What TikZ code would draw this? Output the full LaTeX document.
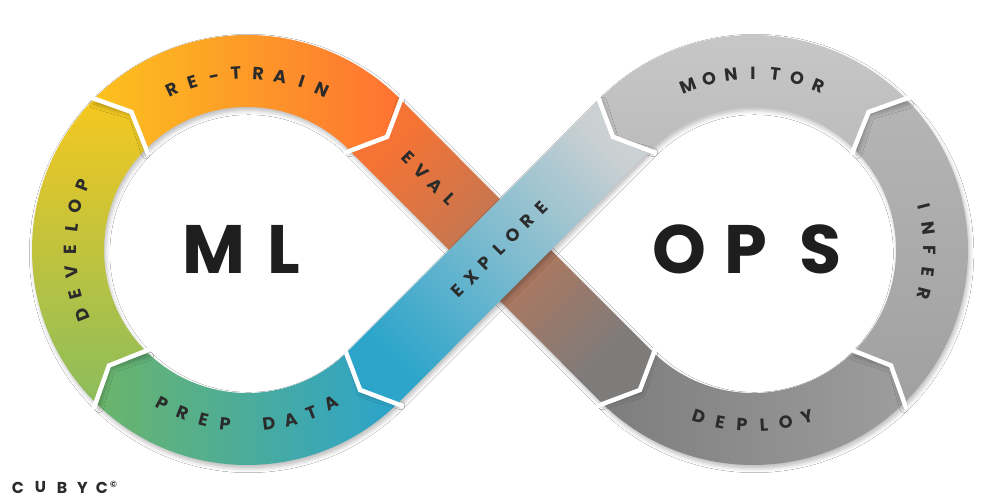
\documentclass[tikz,border=0pt]{standalone}
\usepackage{fontspec}
\setmainfont{Poppins}
\usetikzlibrary{calc,shadows.blur}
\definecolor{txt}{HTML}{2B2B2B}
\definecolor{bigtxt}{HTML}{1E1E1E}
\definecolor{rtA}{HTML}{FCC21E}\definecolor{rtB}{HTML}{FF7232}
\definecolor{dvA}{HTML}{F5C81F}\definecolor{dvB}{HTML}{8ABD5D}
\definecolor{pdA}{HTML}{6BB56B}\definecolor{pdB}{HTML}{2BA3CC}
\definecolor{evA}{HTML}{F57334}\definecolor{evM}{HTML}{B07862}\definecolor{evB}{HTML}{7E7B7B}
\definecolor{exA}{HTML}{CBD0D2}\definecolor{exM}{HTML}{84BCCE}\definecolor{exB}{HTML}{2DA5CB}
\definecolor{moA}{HTML}{C8C8C8}\definecolor{moB}{HTML}{BCBCBC}
\definecolor{inA}{HTML}{B5B5B5}\definecolor{inB}{HTML}{A0A0A0}
\definecolor{deA}{HTML}{7D7D7D}\definecolor{deB}{HTML}{9D9D9D}
\tikzset{
  segshadow/.style={blur shadow={shadow xshift=0.9pt, shadow yshift=-2pt, shadow blur radius=2.4pt, shadow opacity=26}},
  gapline/.style={draw=white, line width=0.09cm, line join=miter},
  lab/.style={font=\fontsize{10}{10}\selectfont\bfseries, text=txt, inner sep=0pt, text height=6pt, text depth=0pt, anchor=center},
  bigl/.style={font=\fontsize{39}{39}\selectfont\bfseries, text=bigtxt, inner sep=0pt, anchor=center},
  brand/.style={font=\fontsize{9}{9}\selectfont\bfseries, text=txt, inner sep=0pt, anchor=center}
}
\def\rOut{215}\def\rIn{143}\def\rMid{179}\def\tipL{19}
\def\rOutX{221}\def\rInX{137}
\def\rT{176}\def\dA{7.2}
% left ring segment, clockwise: #2 start angle (notch), #3 end angle (tip)
\newcommand\mySegL[3]{%
  \path[segshadow,#1] ([shift={(L)}]#2:\rOut) arc[start angle=#2, end angle=#3, radius=\rOut]
    -- ($(L)+(#3:\rMid)+(#3-90:\tipL)$) -- ([shift={(L)}]#3:\rIn)
    arc[start angle=#3, end angle=#2, radius=\rIn]
    -- ($(L)+(#2:\rMid)+(#2-90:\tipL)$) -- cycle;}
% right ring segment, counterclockwise
\newcommand\mySegR[3]{%
  \path[segshadow,#1] ([shift={(R)}]#2:\rOut) arc[start angle=#2, end angle=#3, radius=\rOut]
    -- ($(R)+(#3:\rMid)+(#3+90:\tipL)$) -- ([shift={(R)}]#3:\rIn)
    arc[start angle=#3, end angle=#2, radius=\rIn]
    -- ($(R)+(#2:\rMid)+(#2+90:\tipL)$) -- cycle;}
\newcommand\myGapL[1]{\draw[gapline] ([shift={(L)}]#1:\rOutX) -- ($(L)+(#1:\rMid)+(#1-90:\tipL)$) -- ([shift={(L)}]#1:\rInX);}
\newcommand\myGapR[1]{\draw[gapline] ([shift={(R)}]#1:\rOutX) -- ($(R)+(#1:\rMid)+(#1+90:\tipL)$) -- ([shift={(R)}]#1:\rInX);}
% text reading clockwise (tops outward): #1 prefix, #2 centre coord, #3 centre angle, #4 count, #5 list
\newcommand\myCwText[5]{%
  \foreach \ch [count=\k from 0] in {#5} {%
    \pgfmathsetmacro\ang{#3+(#4-1)/2*\dA-\k*\dA}
    \node[lab, rotate=\ang-90] (#1\k) at ([shift={(#2)}]\ang:\rT) {\ch};}}
% text reading counterclockwise (bottom arcs, tops inward)
\newcommand\myCcwText[5]{%
  \foreach \ch [count=\k from 0] in {#5} {%
    \pgfmathsetmacro\ang{#3-(#4-1)/2*\dA+\k*\dA}
    \node[lab, rotate=\ang+90] (#1\k) at ([shift={(#2)}]\ang:\rT) {\ch};}}
\begin{document}
\begin{tikzpicture}[x=0.02cm,y=0.02cm]
\useasboundingbox (0,0) rectangle (1000,500);
\fill[white] (0,0) rectangle (1000,500);
\coordinate (L) at (247,250);
\coordinate (R) at (753,250);

% left ring
\mySegL{left color=pdA, right color=pdB}{315}{226}
\mySegL{top color=dvA, bottom color=dvB}{226}{136}
\mySegL{left color=rtA, right color=rtB}{136}{45}
% right ring
\mySegR{left color=deA, right color=deB}{225}{314}
\mySegR{top color=inA, bottom color=inB}{314}{404}
\mySegR{top color=moA, bottom color=moB}{44}{135}

% EVAL band
\path[segshadow, top color=evA, middle color=evM, bottom color=evB, shading angle=45]
  ([shift={(L)}]45:\rOut) -- ([shift={(R)}]225:\rIn) -- ($(R)+(225:\rMid)+(-45:\tipL)$)
  -- ([shift={(R)}]225:\rOut) -- ([shift={(L)}]45:\rIn) -- ($(L)+(45:\rMid)+(-45:\tipL)$) -- cycle;
% EXPLORE band
\path[segshadow, top color=exA, middle color=exM, bottom color=exB, shading angle=-45]
  ([shift={(R)}]135:\rOut) -- ([shift={(L)}]315:\rIn) -- ($(L)+(315:\rMid)+(225:\tipL)$)
  -- ([shift={(L)}]315:\rOut) -- ([shift={(R)}]135:\rIn) -- ($(R)+(135:\rMid)+(225:\tipL)$) -- cycle;

% gaps
\myGapL{45}\myGapL{136}\myGapL{226}\myGapL{315}
\myGapR{225}\myGapR{314}\myGapR{44}\myGapR{135}

% ring labels
\myCwText{rt}{L}{90}{8}{R,E,-,T,R,A,I,N}
\myCwText{dv}{L}{180}{7}{D,E,V,E,L,O,P}
\myCcwText{pd}{L}{270}{9}{P,R,E,P,{},D,A,T,A}
\myCwText{mo}{R}{90}{7}{M,O,N,I,T,O,R}
\myCwText{in}{R}{0}{5}{I,N,F,E,R}
\myCcwText{de}{R}{270}{6}{D,E,P,L,O,Y}

% band labels
\coordinate (evc) at (428,321);
\foreach \ch [count=\k from 0] in {E,V,A,L} {%
  \pgfmathsetmacro\off{(\k-1.5)*19.7}
  \node[lab, rotate=-45] (ev\k) at ($(evc)+(-45:\off)$) {\ch};}
\coordinate (exc) at (500,250);
\foreach \ch [count=\k from 0] in {E,X,P,L,O,R,E} {%
  \pgfmathsetmacro\off{(\k-3)*19.7}
  \node[lab, rotate=45] (ex\k) at ($(exc)+(45:\off)$) {\ch};}

% centre words
\node[bigl] (mlM) at (214,251) {M};
\node[bigl] (mlL) at (284,251) {L};
\node[bigl] (opO) at (679,251) {O};
\node[bigl] (opP) at (746,251) {P};
\node[bigl] (opS) at (821,251) {S};

% brand
\foreach \ch/\xx [count=\k] in {C/18,U/40.5,B/62,Y/82.5,C/102} {%
  \node[brand] (cb\k) at (\xx,12.5) {\ch};}
\node[brand, font=\fontsize{5}{5}\selectfont\bfseries] (cbc) at (113.5,16) {©};
\end{tikzpicture}
\end{document}
